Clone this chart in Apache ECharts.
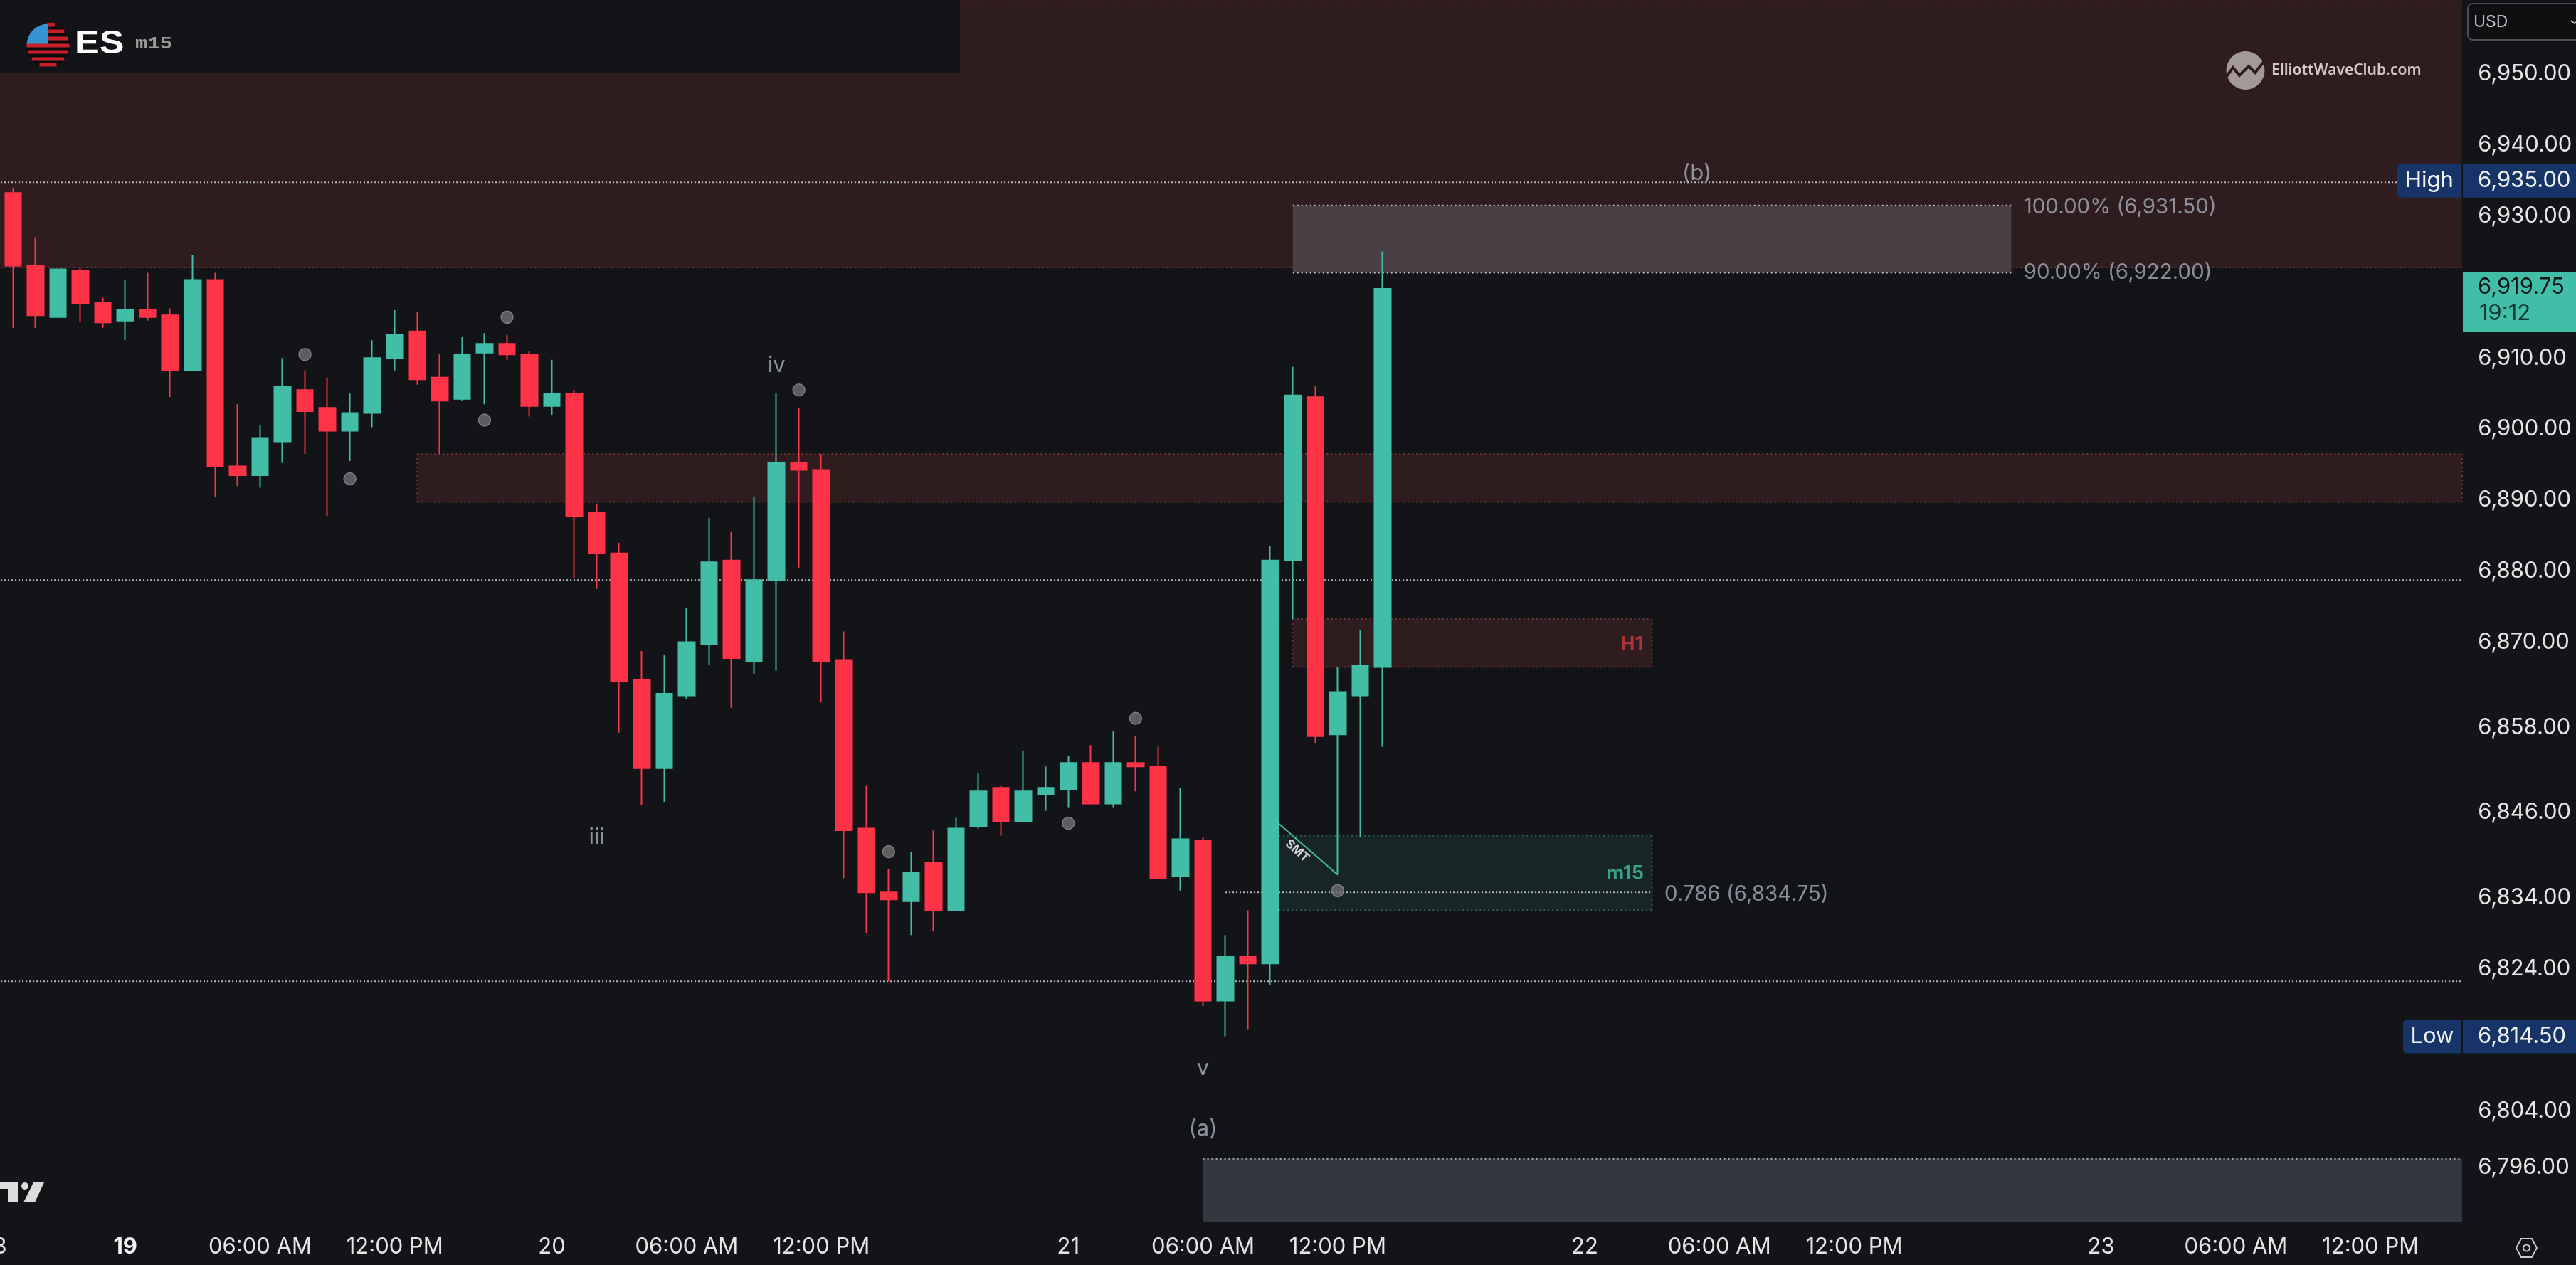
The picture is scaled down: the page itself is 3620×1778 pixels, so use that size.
<!DOCTYPE html>
<html>
<head>
<meta charset="utf-8">
<title>ES m15</title>
<style>
html, body { margin: 0; padding: 0; background: #121418; }
#main { width: 3620px; height: 1778px; }
</style>
<script src="https://cdn.jsdelivr.net/npm/echarts@6/dist/echarts.min.js"></script>
</head>
<body>
<div id="main"></div>
<script>
// candles, bar 0 is the first one on screen
var opens = [6933.25,6923,6915.75,6922.25,6917.75,6915.25,6916.75,6916,6908.25,6921,6894.75,6893.5,6898.25,6905.5,6903,6899.75,6902.25,6910,6913.75,6907.25,6904.25,6910.75,6912,6910.5,6903.25,6905,6888.25,6882.5,6864.75,6852.25,6862.5,6869.75,6881.5,6867.25,6878.75,6895.25,6894.25,6867.5,6843.75,6834.75,6833.5,6839,6832.25,6844,6849.5,6844.75,6848.5,6849.25,6853,6847.25,6853,6852.5,6837,6842,6819.5,6825.75,6824.75,6881.5,6904.5,6857,6862.5,6866.5];
var closes = [6923,6916,6922.5,6917.75,6915,6916.75,6915.75,6908.25,6921,6894.75,6893.5,6898.75,6906,6902.5,6899.75,6902.25,6910,6913.25,6907,6904,6910.5,6912,6910.5,6903.25,6905,6887.75,6882.5,6864.5,6852.25,6862.75,6870,6881.25,6867.75,6878.75,6895.25,6894.25,6867.25,6843.5,6834.75,6833.75,6837.5,6832.25,6843.75,6849,6844.75,6849,6849.5,6853,6847.25,6853,6852.5,6836.75,6842.25,6819.5,6825.75,6824.75,6881.5,6904.75,6856.75,6863,6866.75,6919.75];
var lows = [6914.25,6914.25,6915.75,6915,6914.25,6912.5,6915.25,6904.5,6908.25,6890.5,6892,6891.75,6895.25,6896.5,6887.75,6895.5,6900.25,6908.25,6906.25,6896.5,6904,6903.5,6909.75,6901.75,6902,6879,6877.5,6857.25,6847,6847.5,6862,6866.75,6860.75,6865.5,6866,6880.5,6861.5,6836.75,6829,6822.25,6828.75,6829.25,6832.25,6843.75,6842.75,6844.75,6846.25,6846.75,6847.25,6846.75,6849,6836.75,6835,6818.75,6814.5,6815.5,6821.75,6873.25,6855.75,6837.25,6842.5,6855.25];
var highs = [6934,6927,6922.5,6922.75,6918.5,6921,6922,6917,6924.5,6922,6903.5,6900.5,6910,6908.25,6907.25,6905,6912.5,6916.75,6916.5,6910.5,6913,6913.5,6913.25,6911,6909.75,6905.5,6889.5,6884,6868.75,6868.25,6874.75,6887.5,6885.5,6890.5,6905,6903,6896.5,6871.5,6849.75,6838,6840.5,6843.5,6845.25,6851.5,6849.75,6854.75,6852.5,6854,6855.5,6857.5,6856.75,6855.25,6849.5,6842.5,6828.75,6832.25,6883.5,6908.75,6906,6866.5,6871.75,6925];

// time axis
var tickBars = [-1,5,11,17,24,30,36,47,53,59,70,76,82,93,99,105];
var tickLabels = ['18','19','06:00 AM','12:00 PM','20','06:00 AM','12:00 PM','21','06:00 AM','12:00 PM','22','06:00 AM','12:00 PM','23','06:00 AM','12:00 PM'];

// price axis
var priceTicks = [6950,6940,6930,6910,6900,6890,6880,6870,6858,6846,6834,6824,6804,6796];

// zones: first bar, last bar, upper price, lower price
var zoneNames = ['supply','midSupply','h1','m15','fib','low'];
var zoneFrom = [-1.5,18,57,56,57,53];
var zoneTo = [109.08,109.08,73,73,89,109.08];
var zoneUpper = [6960.5,6896.5,6873.25,6842.75,6931.5,6797.25];
var zoneLower = [6922.75,6889.75,6866.5,6832.25,6922,6788.4];

// dotted levels
var levelFrom = [-1.5,-1.5,-1.5,54];
var levelTo = [109.08,109.08,109.08,73];
var levelPrices = [6934.75,6878.75,6822.25,6834.75];

// grey dots
var dotBars = [13,15,21,22,35,39,47,50,59];
var dotPrices = [6910.5,6893,6901.25,6915.75,6905.5,6840.5,6844.5,6859.25,6835];

// wave counts and other notes
var noteNames = ['iii','iv','v','(a)','(b)','100.00% (6,931.50)','90.00% (6,922.00)','0.786 (6,834.75)','H1','m15','SMT'];
var noteBars = [26,34,53,53,75,89.55,89.55,73.55,72.1,71.8,57.2];
var notePrices = [6842.5,6909,6810,6801.5,6936,6931.25,6922,6834.5,6869.7,6837.4,6840.6];

// SMT link
var smtBars = [56.35,59];
var smtPrices = [6844.5,6837.25];

// tags on the price axis
var tagNames = ['High','Low','Last'];
var tagPrices = [6935,6814.5,6919.75];

var BG = '#121418';
var UP = '#42bda8';
var DOWN = '#ff3347';
var FONT = 'Inter';
var BAR_W = 31.55;

var categories = [];
for (var i = -1; i <= 109; i++) {
	var k = tickBars.indexOf(i);
	categories.push(k >= 0 ? tickLabels[k] : '');
}
var candleData = ['-'];
opens.forEach(function (o, i) {
	candleData.push([o, closes[i], lows[i], highs[i]]);
});

function fmtPrice(v) {
	var s = v.toFixed(2);
	return s.charAt(0) + ',' + s.slice(1);
}

var zoneStyles = {
	supply: { fill: '#2f1c1f', line: '#6d3537', sides: false },
	midSupply: { fill: '#2f1c1f', line: '#6d3537', sides: true },
	h1: { fill: '#2f1c1f', line: '#6d3537', sides: true },
	m15: { fill: '#172524', line: '#2f6a5e', sides: true },
	fib: { fill: '#4b3f46', line: '#c4c6cb', sides: false },
	low: { fill: '#333740', line: '#b9bcc0', sides: false, noBottom: true }
};

function renderZone(params, api) {
	var st = zoneStyles[zoneNames[params.dataIndex]];
	var a = api.coord([api.value(0), api.value(2)]);
	var b = api.coord([api.value(1), api.value(3)]);
	var dash = { stroke: st.line, lineWidth: 2, lineDash: [2, 4] };
	var kids = [{
		type: 'rect',
		shape: { x: a[0], y: a[1], width: b[0] - a[0], height: b[1] - a[1] },
		style: { fill: st.fill }
	}];
	kids.push({ type: 'line', shape: { x1: a[0], y1: a[1], x2: b[0], y2: a[1] }, style: dash });
	if (!st.noBottom) {
		kids.push({ type: 'line', shape: { x1: a[0], y1: b[1], x2: b[0], y2: b[1] }, style: dash });
	}
	if (st.sides) {
		kids.push({ type: 'line', shape: { x1: a[0], y1: a[1], x2: a[0], y2: b[1] }, style: dash });
		kids.push({ type: 'line', shape: { x1: b[0], y1: a[1], x2: b[0], y2: b[1] }, style: dash });
	}
	return { type: 'group', children: kids };
}

function renderLevel(params, api) {
	var a = api.coord([api.value(0), api.value(2)]);
	var b = api.coord([api.value(1), api.value(2)]);
	return {
		type: 'line',
		shape: { x1: a[0], y1: a[1], x2: b[0], y2: b[1] },
		style: { stroke: '#b9bcc0', lineWidth: 2, lineDash: [2, 3] }
	};
}

function tagText(x, y, str, color, size, align) {
	return {
		type: 'text', x: x, y: y,
		style: { text: str, fill: color, font: size + 'px ' + FONT, align: align || 'left', verticalAlign: 'middle' }
	};
}

function renderTag(params, api) {
	var y = api.coord([0, api.value(0)])[1];
	var name = tagNames[params.dataIndex];
	if (name === 'Last') {
		return { type: 'group', children: [
			{ type: 'rect', shape: { x: 3461, y: y - 23, width: 159, height: 84 }, style: { fill: UP } },
			tagText(3482, y - 2, fmtPrice(api.value(0)), '#0c1413', 31),
			tagText(3484, y + 35, '19:12', '#0f3a33', 31)
		] };
	}
	var left = name === 'High' ? 3369 : 3377;
	return { type: 'group', children: [
		{ type: 'rect', shape: { x: left, y: y - 23, width: 3459 - left, height: 47, r: [5, 0, 0, 5] }, style: { fill: '#163468' } },
		{ type: 'rect', shape: { x: 3461, y: y - 23, width: 159, height: 47 }, style: { fill: '#163468' } },
		tagText((left + 3459) / 2, y, name, '#f2f2f2', 31, 'center'),
		tagText(3482, y, fmtPrice(api.value(0)), '#f2f2f2', 31)
	] };
}

function noteLabel(name) {
	if (name === 'H1') return { color: '#cc3d3d', fontSize: 27, fontWeight: 'bold' };
	if (name === 'm15') return { color: '#3fbfa6', fontSize: 27, fontWeight: 'bold' };
	if (name === 'SMT') return { color: '#ffffff', fontSize: 17, fontWeight: 'bold', rotate: -41 };
	if (name.indexOf('%') >= 0 || name.indexOf('0.786') === 0) return { color: '#a6aebd', fontSize: 29.5, position: 'right', distance: 0 };
	return { color: '#a9b0bd', fontSize: 31 };
}

// logo bits, these are not data
function flagItems() {
	var cx = 67.5, cy = 63.5, r = 31;
	var items = [
		{ type: 'circle', shape: { cx: cx, cy: cy, r: r }, style: { fill: '#0b0b0c' }, z: 21 },
		{ type: 'sector', shape: { cx: cx, cy: cy, r: r - 1, startAngle: Math.PI, endAngle: Math.PI * 1.5 }, style: { fill: '#3593d0' }, z: 22 }
	];
	[35, 44, 54, 64, 73, 83, 91].forEach(function (y, i) {
		var half = Math.sqrt(Math.max(0, (r - 1) * (r - 1) - (y - cy) * (y - cy)));
		var x0 = i < 3 ? cx : cx - half;
		items.push({ type: 'rect', shape: { x: x0, y: y - 2.5, width: cx + half - x0, height: 5 }, style: { fill: '#c8202a' }, z: 22 });
	});
	return items;
}

var graphics = [
	{ type: 'rect', shape: { x: 0, y: 0, width: 1349, height: 103 }, style: { fill: '#131417' }, z: 20 },
	{ type: 'text', x: 105, y: 62, scaleX: 1.13, z: 22, style: { text: 'ES', fill: '#ffffff', font: 'bold 46px "Liberation Sans"', verticalAlign: 'middle' } },
	{ type: 'text', x: 190, y: 62, scaleX: 1.26, z: 22, style: { text: 'm15', fill: '#9a9a9a', font: 'bold 23px "Liberation Mono"', verticalAlign: 'middle' } },

	{ type: 'circle', shape: { cx: 3155.5, cy: 99, r: 27 }, style: { fill: '#a39a98' }, z: 20 },
	{ type: 'polyline', shape: { points: [[3127, 110], [3138, 95], [3147, 106], [3160, 93], [3169, 102], [3182, 86]] }, style: { stroke: '#2f1c1f', fill: null, lineWidth: 4 }, z: 21 },
	{ type: 'text', x: 3192, y: 99, z: 21, style: { text: 'ElliottWaveClub.com', fill: '#d3c9c8', font: '600 21px "Noto Sans"', verticalAlign: 'middle' } },

	{ type: 'rect', shape: { x: 3468, y: 5, width: 170, height: 51, r: 7 }, style: { fill: '#0e0f11', stroke: '#4a4c50', lineWidth: 2 }, z: 20 },
	{ type: 'text', x: 3476, y: 31, z: 21, style: { text: 'USD', fill: '#b9bcc0', font: '23px ' + FONT, verticalAlign: 'middle' } },
	{ type: 'polyline', shape: { points: [[3613, 29], [3618, 33], [3623, 29]] }, style: { stroke: '#b9bcc0', fill: null, lineWidth: 2 }, z: 21 },

	// tradingview mark
	{ type: 'rect', shape: { x: 0, y: 1662, width: 25, height: 9 }, style: { fill: '#dcdcdc' }, z: 20 },
	{ type: 'rect', shape: { x: 11, y: 1662, width: 14, height: 28 }, style: { fill: '#dcdcdc' }, z: 20 },
	{ type: 'circle', shape: { cx: 35, cy: 1667, r: 5 }, style: { fill: '#dcdcdc' }, z: 20 },
	{ type: 'polygon', shape: { points: [[47, 1662], [62, 1662], [49, 1690], [33, 1690]] }, style: { fill: '#dcdcdc' }, z: 20 },

	// settings icon
	{ type: 'polygon', shape: { points: [[3536, 1754], [3543, 1741], [3558, 1741], [3565, 1754], [3558, 1767], [3543, 1767]] }, style: { fill: null, stroke: '#c9cbce', lineWidth: 2 }, z: 20 },
	{ type: 'circle', shape: { cx: 3550.5, cy: 1754, r: 4.5 }, style: { fill: null, stroke: '#c9cbce', lineWidth: 2 }, z: 20 }
].concat(flagItems());

var chart = echarts.init(document.getElementById('main'));
chart.setOption({
	animation: false,
	backgroundColor: BG,
	textStyle: { fontFamily: FONT },
	graphic: graphics,
	grid: { left: 18.4 - 1.5 * BAR_W, top: 0, width: 111 * BAR_W, height: 1718, outerBoundsMode: 'none' },
	xAxis: [{
		type: 'category',
		data: categories,
		boundaryGap: true,
		axisLine: { show: false },
		axisTick: { show: false },
		splitLine: { show: false },
		axisLabel: {
			interval: 0,
			hideOverlap: false,
			margin: 19,
			color: '#e6e6e6',
			fontSize: 31,
			fontFamily: FONT,
			formatter: function (v) {
				if (v === '19') return '{b|19}';
				// the 18 sits half off the left edge
				if (v === '18') return '{e|18}';
				return v;
			},
			rich: {
				b: { fontWeight: 'bold', fontSize: 31, color: '#f2f2f2', fontFamily: FONT },
				e: { fontSize: 31, color: '#e6e6e6', fontFamily: FONT, padding: [0, 0, 0, 14] }
			}
		}
	}, {
		type: 'value',
		show: false,
		min: -1.5,
		max: 109.5,
		splitLine: { show: false }
	}],
	yAxis: {
		type: 'value',
		position: 'right',
		offset: -13,
		min: 6788.3,
		max: 6960.42,
		axisLine: { show: false },
		axisTick: { show: false },
		splitLine: { show: false },
		axisLabel: {
			customValues: priceTicks,
			margin: 22,
			color: '#e6e6e6',
			fontSize: 31,
			fontFamily: FONT,
			formatter: fmtPrice
		}
	},
	series: [{
		name: 'zones',
		type: 'custom',
		xAxisIndex: 1,
		z: 1,
		silent: true,
		renderItem: renderZone,
		data: zoneNames.map(function (n, i) { return [zoneFrom[i], zoneTo[i], zoneUpper[i], zoneLower[i]]; })
	}, {
		name: 'levels',
		type: 'custom',
		xAxisIndex: 1,
		z: 2,
		silent: true,
		renderItem: renderLevel,
		data: levelPrices.map(function (p, i) { return [levelFrom[i], levelTo[i], p]; })
	}, {
		name: 'ES',
		type: 'candlestick',
		xAxisIndex: 0,
		z: 3,
		barWidth: 23,
		itemStyle: { color: UP, color0: DOWN, borderColor: UP, borderColor0: DOWN, borderWidth: 2 },
		data: candleData
	}, {
		name: 'smt',
		type: 'line',
		xAxisIndex: 1,
		z: 4,
		symbol: 'none',
		lineStyle: { color: UP, width: 2 },
		data: smtBars.map(function (b, i) { return [b, smtPrices[i]]; })
	}, {
		name: 'dots',
		type: 'scatter',
		xAxisIndex: 1,
		z: 4,
		symbolSize: 17,
		itemStyle: { color: '#6e6f71', borderColor: '#8d8e90', borderWidth: 1.5 },
		data: dotBars.map(function (b, i) { return [b, dotPrices[i]]; })
	}, {
		name: 'notes',
		type: 'scatter',
		xAxisIndex: 1,
		z: 5,
		symbolSize: 0,
		data: noteNames.map(function (n, i) {
			var lb = noteLabel(n);
			lb.show = true;
			lb.formatter = n;
			lb.fontFamily = FONT;
			if (!lb.position) lb.position = 'inside';
			return { name: n, value: [noteBars[i], notePrices[i]], label: lb };
		})
	}, {
		name: 'tags',
		type: 'custom',
		xAxisIndex: 1,
		z: 6,
		silent: true,
		clip: false,
		renderItem: renderTag,
		data: tagPrices.map(function (p) { return [p]; }),
		encode: { y: 0 }
	}]
});
</script>
</body>
</html>
